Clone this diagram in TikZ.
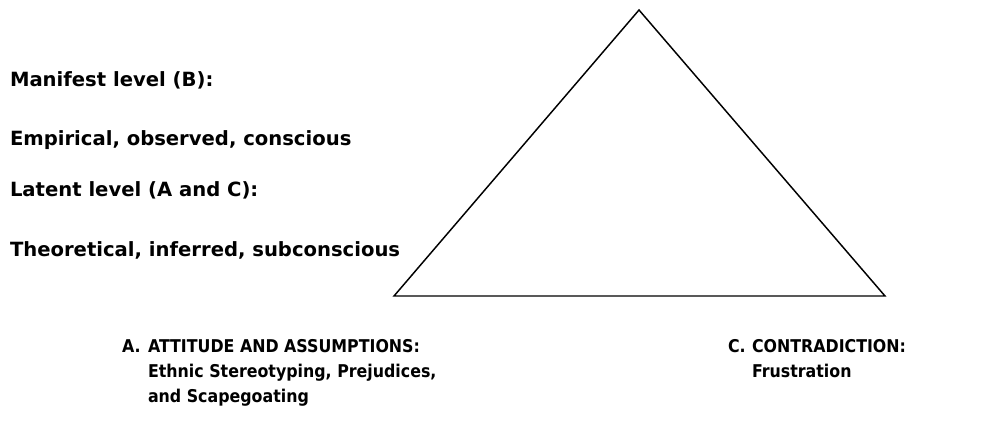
\documentclass[tikz,border=0pt]{standalone}
\usepackage{fontspec}
\setmainfont{DejaVu Sans}
\newfontfamily\narrowfont[FakeStretch=0.9]{DejaVu Sans}
\begin{document}
\begin{tikzpicture}[x=0.75pt,y=-0.75pt,
  lbl/.style={inner sep=0pt,outer sep=0pt,anchor=base west,align=left,
    font=\fontsize{14.7}{18.75}\selectfont\bfseries},
  blbl/.style={inner sep=0pt,outer sep=0pt,anchor=base west,align=left,
    font=\narrowfont\fontsize{13.2}{18.75}\selectfont\bfseries},
  tri/.style={draw=black,line width=1.1pt,line join=miter}]
\useasboundingbox (0,0) rectangle (999,429);
% triangle
\coordinate (top) at (639,10);
\coordinate (bl) at (394,296);
\coordinate (br) at (885,296);
\draw[tri] (top) -- (br) -- (bl) -- cycle;
% left labels
\node[lbl] (manifest) at (10,86) {Manifest level (B):};
\node[lbl] (empirical) at (10,145) {Empirical, observed, conscious};
\node[lbl] (latent) at (10,196) {Latent level (A and C):};
\node[lbl] (theoretical) at (10,256) {Theoretical, inferred, subconscious};
% A (base anchor = last line)
\node[blbl] (aletter) at (122,352) {A.};
\node[blbl] (atext) at (148,402) {ATTITUDE AND ASSUMPTIONS:\\Ethnic Stereotyping, Prejudices,\\and Scapegoating};
% C
\node[blbl] (cletter) at (728,352) {C.};
\node[blbl] (ctext) at (752,377) {CONTRADICTION:\\Frustration};
\end{tikzpicture}
\end{document}
